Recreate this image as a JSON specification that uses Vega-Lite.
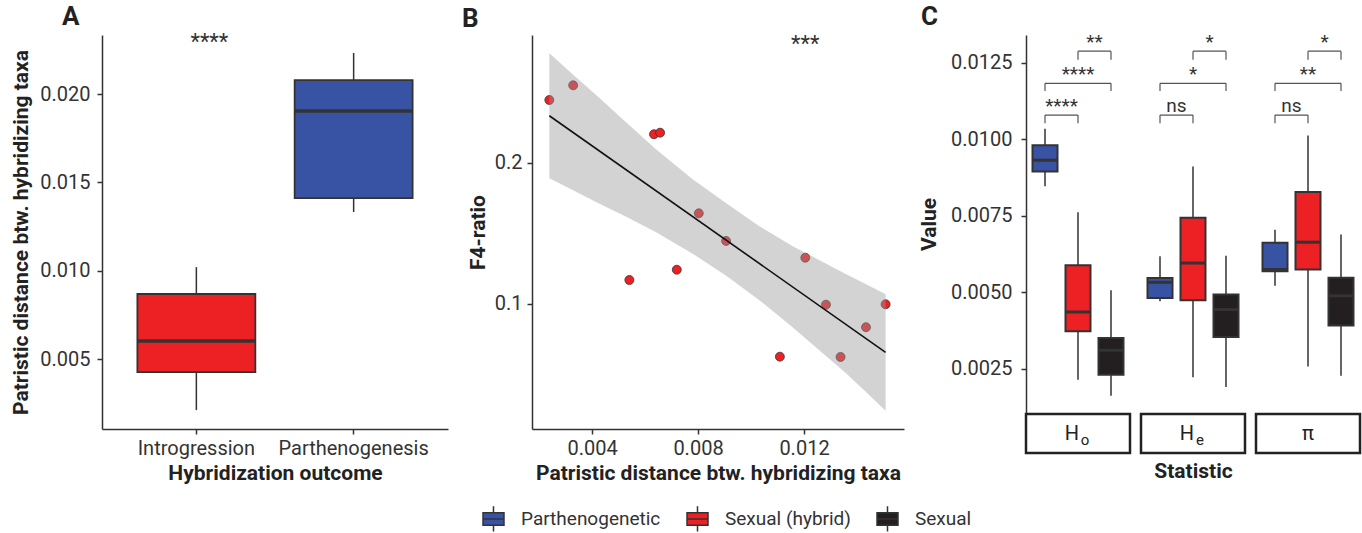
{
  "$schema": "https://vega.github.io/schema/vega-lite/v6.json",
  "padding": {"left": 10, "top": 3, "right": 0, "bottom": 0},
  "config": {
    "view": {"stroke": null},
    "font": "Roboto",
    "axis": {"domainColor": "#333333", "domainWidth": 1.5, "tickColor": "#333333", "tickWidth": 1.5, "tickSize": 5, "labelFont": "Roboto", "labelFontSize": 20, "labelColor": "#333333", "labelPadding": 6, "titleFont": "Roboto", "titleFontSize": 21, "titleFontWeight": "bold", "titleColor": "#222222", "grid": false},
    "title": {"font": "Roboto", "fontSize": 26, "fontWeight": "bold", "color": "#222222", "anchor": "start", "frame": "group", "offset": 3},
    "legend": {"labelFont": "Roboto", "labelFontSize": 19, "labelColor": "#333333"}
  },
  "spacing": 14,
  "hconcat": [
    {
      "width": 346,
      "height": 394,
      "title": {"text": "A", "dx": -40, "offset": 1},
      "data": {"values": [
        {"outcome": "Introgression", "lower": 0.00211, "q1": 0.00426, "median": 0.00602, "q3": 0.00868, "upper": 0.0102},
        {"outcome": "Parthenogenesis", "lower": 0.01332, "q1": 0.01411, "median": 0.01904, "q3": 0.02079, "upper": 0.02232}
      ]},
      "encoding": {
        "x": {"field": "outcome", "type": "nominal", "scale": {"paddingInner": 0.25, "paddingOuter": 0.225}, "axis": {"title": "Hybridization outcome", "labelAngle": 0, "labelPadding": 4, "titlePadding": 4}}
      },
      "layer": [
        {"mark": {"type": "rule", "color": "#333333", "strokeWidth": 1.5},
         "encoding": {"y": {"field": "lower", "type": "quantitative", "scale": {"domain": [0.00104, 0.02334], "nice": false, "zero": false}, "axis": {"title": "Patristic distance btw. hybridizing taxa", "values": [0.005, 0.01, 0.015, 0.02], "format": ".3f", "labelPadding": 7, "titlePadding": 8}}, "y2": {"field": "upper"}}},
        {"mark": {"type": "bar", "stroke": "#333333", "strokeWidth": 1.8},
         "encoding": {"y": {"field": "q1", "type": "quantitative"}, "y2": {"field": "q3"},
           "fill": {"condition": {"test": "datum.outcome === 'Introgression'", "value": "#ED2024"}, "value": "#3953A4"}}},
        {"mark": {"type": "tick", "color": "#333333", "thickness": 3.5, "size": 118, "opacity": 1},
         "encoding": {"y": {"field": "median", "type": "quantitative"}}},
        {"data": {"values": [{"outcome": "Introgression", "y": 0.02252, "label": "****"}]},
         "mark": {"type": "text", "fontSize": 22, "dx": 13, "baseline": "alphabetic", "color": "#333333"},
         "encoding": {"y": {"field": "y", "type": "quantitative"}, "text": {"field": "label"}}}
      ]
    },
    {
      "width": 372,
      "height": 394,
      "title": {"text": "B", "dx": -70, "offset": 1},
      "layer": [
        {"data": {"values": [
          {"dist": 0.00239, "f4": 0.2447}, {"dist": 0.00329, "f4": 0.2551}, {"dist": 0.00634, "f4": 0.2204},
          {"dist": 0.00657, "f4": 0.2215}, {"dist": 0.00541, "f4": 0.117}, {"dist": 0.0072, "f4": 0.1243},
          {"dist": 0.00803, "f4": 0.1643}, {"dist": 0.00906, "f4": 0.1447}, {"dist": 0.01205, "f4": 0.1328},
          {"dist": 0.01109, "f4": 0.0626}, {"dist": 0.01283, "f4": 0.0995}, {"dist": 0.01338, "f4": 0.0624},
          {"dist": 0.01434, "f4": 0.0835}, {"dist": 0.01508, "f4": 0.0998}
         ]},
         "mark": {"type": "point", "filled": true, "fill": "#ED2024", "stroke": "#333333", "strokeWidth": 0.8, "size": 80, "opacity": 1},
         "encoding": {
           "x": {"field": "dist", "type": "quantitative", "scale": {"domain": [0.001736, 0.015774], "nice": false, "zero": false}, "axis": {"title": "Patristic distance btw. hybridizing taxa", "values": [0.004, 0.008, 0.012], "format": ".3f", "labelPadding": 4, "titlePadding": 4}},
           "y": {"field": "f4", "type": "quantitative", "scale": {"domain": [0.0113, 0.2908], "nice": false, "zero": false}, "axis": {"title": "F4-ratio", "values": [0.1, 0.2], "format": ".1f", "labelPadding": 5, "titlePadding": 6}}
         }},
        {"data": {"values": [
          {"dist": 0.00239, "lo": 0.18915, "hi": 0.27778}, {"dist": 0.003321, "lo": 0.18036, "hi": 0.26206},
          {"dist": 0.004264, "lo": 0.17128, "hi": 0.24645}, {"dist": 0.005272, "lo": 0.16207, "hi": 0.22908},
          {"dist": 0.006404, "lo": 0.15108, "hi": 0.20993}, {"dist": 0.007785, "lo": 0.13583, "hi": 0.18865},
          {"dist": 0.00908, "lo": 0.11988, "hi": 0.17128}, {"dist": 0.010302, "lo": 0.10287, "hi": 0.15533},
          {"dist": 0.011559, "lo": 0.08372, "hi": 0.14115}, {"dist": 0.012567, "lo": 0.06742, "hi": 0.13123},
          {"dist": 0.013575, "lo": 0.05111, "hi": 0.1213}, {"dist": 0.014329, "lo": 0.03764, "hi": 0.11421},
          {"dist": 0.01508, "lo": 0.02417, "hi": 0.10691}
         ]},
         "mark": {"type": "area", "color": "#999999", "opacity": 0.43},
         "encoding": {"x": {"field": "dist", "type": "quantitative"}, "y": {"field": "lo", "type": "quantitative"}, "y2": {"field": "hi"}}},
        {"data": {"values": [{"dist": 0.00239, "fit": 0.2335}, {"dist": 0.01508, "fit": 0.0657}]},
         "mark": {"type": "line", "color": "#111111", "strokeWidth": 1.6},
         "encoding": {"x": {"field": "dist", "type": "quantitative"}, "y": {"field": "fit", "type": "quantitative"}}},
        {"data": {"values": [{"dist": 0.01205, "y": 0.2791, "label": "***"}]},
         "mark": {"type": "text", "fontSize": 22, "baseline": "alphabetic", "color": "#333333"},
         "encoding": {"x": {"field": "dist", "type": "quantitative"}, "y": {"field": "y", "type": "quantitative"}, "text": {"field": "label"}}}
      ]
    },
    {
      "bounds": "flush",
      "spacing": 1,
      "vconcat": [
        {
          "width": 334,
          "height": 378,
          "title": {"text": "C", "dx": -105},
          "data": {"values": [
            {"kind": "box", "stat": "Ho", "group": "Parthenogenetic", "lower": 0.00847, "q1": 0.00895, "median": 0.00932, "q3": 0.00981, "upper": 0.01035},
            {"kind": "box", "stat": "Ho", "group": "Sexual (hybrid)", "lower": 0.00215, "q1": 0.00373, "median": 0.00436, "q3": 0.00589, "upper": 0.00762},
            {"kind": "box", "stat": "Ho", "group": "Sexual", "lower": 0.00162, "q1": 0.00231, "median": 0.00311, "q3": 0.00351, "upper": 0.00507},
            {"kind": "box", "stat": "He", "group": "Parthenogenetic", "lower": 0.00471, "q1": 0.00482, "median": 0.00533, "q3": 0.00547, "upper": 0.00618},
            {"kind": "box", "stat": "He", "group": "Sexual (hybrid)", "lower": 0.00223, "q1": 0.00474, "median": 0.00596, "q3": 0.00744, "upper": 0.00911},
            {"kind": "box", "stat": "He", "group": "Sexual", "lower": 0.00191, "q1": 0.00354, "median": 0.00444, "q3": 0.00493, "upper": 0.0062},
            {"kind": "box", "stat": "pi", "group": "Parthenogenetic", "lower": 0.00522, "q1": 0.00569, "median": 0.00575, "q3": 0.00662, "upper": 0.00705},
            {"kind": "box", "stat": "pi", "group": "Sexual (hybrid)", "lower": 0.00258, "q1": 0.00575, "median": 0.00664, "q3": 0.00828, "upper": 0.01013},
            {"kind": "box", "stat": "pi", "group": "Sexual", "lower": 0.00228, "q1": 0.00392, "median": 0.00489, "q3": 0.00548, "upper": 0.00689},
            {"kind": "bracket", "pair": "P-SH", "stat": "Ho", "g1": "Parthenogenetic", "g2": "Sexual (hybrid)", "by": 0.010795, "tip": 0.010524, "ly": 0.01091, "label": "****"},
            {"kind": "bracket", "pair": "P-S", "stat": "Ho", "g1": "Parthenogenetic", "g2": "Sexual", "mid": "Sexual (hybrid)", "by": 0.011832, "tip": 0.01158, "ly": 0.01195, "label": "****"},
            {"kind": "bracket", "pair": "SH-S", "stat": "Ho", "g1": "Sexual (hybrid)", "g2": "Sexual", "by": 0.01288, "tip": 0.0126, "ly": 0.013, "label": "**"},
            {"kind": "bracket", "pair": "P-SH", "stat": "He", "g1": "Parthenogenetic", "g2": "Sexual (hybrid)", "by": 0.010795, "tip": 0.010524, "ly": 0.01091, "label": "ns"},
            {"kind": "bracket", "pair": "P-S", "stat": "He", "g1": "Parthenogenetic", "g2": "Sexual", "mid": "Sexual (hybrid)", "by": 0.011832, "tip": 0.01158, "ly": 0.01195, "label": "*"},
            {"kind": "bracket", "pair": "SH-S", "stat": "He", "g1": "Sexual (hybrid)", "g2": "Sexual", "by": 0.01288, "tip": 0.0126, "ly": 0.013, "label": "*"},
            {"kind": "bracket", "pair": "P-SH", "stat": "pi", "g1": "Parthenogenetic", "g2": "Sexual (hybrid)", "by": 0.010795, "tip": 0.010524, "ly": 0.01091, "label": "ns"},
            {"kind": "bracket", "pair": "P-S", "stat": "pi", "g1": "Parthenogenetic", "g2": "Sexual", "mid": "Sexual (hybrid)", "by": 0.011832, "tip": 0.01158, "ly": 0.01195, "label": "**"},
            {"kind": "bracket", "pair": "SH-S", "stat": "pi", "g1": "Sexual (hybrid)", "g2": "Sexual", "by": 0.01288, "tip": 0.0126, "ly": 0.013, "label": "*"}
          ]},
          "encoding": {
            "x": {"field": "stat", "type": "nominal", "sort": ["Ho", "He", "pi"], "scale": {"paddingInner": 0.0957, "paddingOuter": 0}, "axis": null}
          },
          "layer": [
            {"transform": [{"filter": "datum.kind === 'box'"}],
             "mark": {"type": "rule", "color": "#333333", "strokeWidth": 1.5},
             "encoding": {
               "xOffset": {"field": "group", "type": "nominal", "scale": {"domain": ["Parthenogenetic", "Sexual (hybrid)", "Sexual"], "paddingInner": 0.2424, "paddingOuter": 0.197}},
               "y": {"field": "lower", "type": "quantitative", "scale": {"domain": [0.00106, 0.01341], "nice": false, "zero": false}, "axis": {"title": "Value", "values": [0.0025, 0.005, 0.0075, 0.01, 0.0125], "format": ".4f", "labelPadding": 9, "titlePadding": 11}},
               "y2": {"field": "upper"}}},
            {"transform": [{"filter": "datum.kind === 'box'"}],
             "mark": {"type": "bar", "stroke": "#333333", "strokeWidth": 2},
             "encoding": {
               "xOffset": {"field": "group", "type": "nominal"},
               "y": {"field": "q1", "type": "quantitative"}, "y2": {"field": "q3"},
               "color": {"field": "group", "type": "nominal", "scale": {"domain": ["Parthenogenetic", "Sexual (hybrid)", "Sexual"], "range": ["#3953A4", "#ED2024", "#231F20"]},
                 "legend": {"title": null, "orient": "none", "direction": "horizontal", "legendX": 380, "legendY": 472, "padding": 0, "columnPadding": 23, "labelOffset": 16, "symbolType": "M-1,-0.6H1V0.6H-1Z M-1,0H1 M0,-0.6V-1.2 M0,0.6V1.2", "symbolSize": 440, "symbolStrokeColor": "#333333", "symbolStrokeWidth": 1.5, "symbolOpacity": 1}}}},
            {"transform": [{"filter": "datum.kind === 'box'"}],
             "mark": {"type": "tick", "color": "#333333", "thickness": 3, "size": 25, "opacity": 1},
             "encoding": {"xOffset": {"field": "group", "type": "nominal"}, "y": {"field": "median", "type": "quantitative"}}},
            {"transform": [{"filter": "datum.kind === 'bracket' && datum.pair === 'P-SH'"}],
             "mark": {"type": "tick", "color": "#555555", "thickness": 1.2, "size": 33, "xOffset": -16.5, "opacity": 1},
             "encoding": {"y": {"field": "by", "type": "quantitative"}}},
            {"transform": [{"filter": "datum.kind === 'bracket' && datum.pair === 'SH-S'"}],
             "mark": {"type": "tick", "color": "#555555", "thickness": 1.2, "size": 33, "xOffset": 16.5, "opacity": 1},
             "encoding": {"y": {"field": "by", "type": "quantitative"}}},
            {"transform": [{"filter": "datum.kind === 'bracket' && datum.pair === 'P-S'"}],
             "mark": {"type": "tick", "color": "#555555", "thickness": 1.2, "size": 66, "opacity": 1},
             "encoding": {"y": {"field": "by", "type": "quantitative"}}},
            {"transform": [{"filter": "datum.kind === 'bracket'"}],
             "mark": {"type": "rule", "color": "#555555", "strokeWidth": 1.2},
             "encoding": {"xOffset": {"field": "g1", "type": "nominal"}, "y": {"field": "by", "type": "quantitative"}, "y2": {"field": "tip"}}},
            {"transform": [{"filter": "datum.kind === 'bracket'"}],
             "mark": {"type": "rule", "color": "#555555", "strokeWidth": 1.2},
             "encoding": {"xOffset": {"field": "g2", "type": "nominal"}, "y": {"field": "by", "type": "quantitative"}, "y2": {"field": "tip"}}},
            {"transform": [{"filter": "datum.kind === 'bracket' && datum.pair !== 'P-S'"}],
             "mark": {"type": "text", "fontSize": 19, "dx": 16.5, "baseline": "alphabetic", "color": "#333333"},
             "encoding": {"xOffset": {"field": "g1", "type": "nominal"}, "y": {"field": "ly", "type": "quantitative"}, "text": {"field": "label"}}},
            {"transform": [{"filter": "datum.kind === 'bracket' && datum.pair === 'P-S'"}],
             "mark": {"type": "text", "fontSize": 19, "baseline": "alphabetic", "color": "#333333"},
             "encoding": {"xOffset": {"field": "mid", "type": "nominal"}, "y": {"field": "ly", "type": "quantitative"}, "text": {"field": "label"}}}
          ]
        },
        {
          "width": 334,
          "height": 39,
          "data": {"values": [
            {"stat": "Ho", "main": "H", "sub": "o"},
            {"stat": "He", "main": "H", "sub": "e"},
            {"stat": "pi", "main": "π", "sub": ""}
          ]},
          "encoding": {"x": {"field": "stat", "type": "nominal", "sort": ["Ho", "He", "pi"], "scale": {"paddingInner": 0.0957, "paddingOuter": 0}, "axis": {"title": "Statistic", "labels": false, "ticks": false, "domain": false, "titlePadding": 7}}},
          "layer": [
            {"mark": {"type": "bar", "fill": "#ffffff", "stroke": "#222222", "strokeWidth": 2.5}},
            {"transform": [{"filter": "datum.sub !== ''"}],
             "mark": {"type": "text", "fontSize": 20, "dx": -6, "color": "#222222"}, "encoding": {"text": {"field": "main"}}},
            {"transform": [{"filter": "datum.sub !== ''"}],
             "mark": {"type": "text", "fontSize": 15, "dx": 7, "dy": 6, "color": "#222222"}, "encoding": {"text": {"field": "sub"}}},
            {"transform": [{"filter": "datum.sub === ''"}],
             "mark": {"type": "text", "fontSize": 20, "color": "#222222"}, "encoding": {"text": {"field": "main"}}}
          ]
        }
      ]
    }
  ]
}
